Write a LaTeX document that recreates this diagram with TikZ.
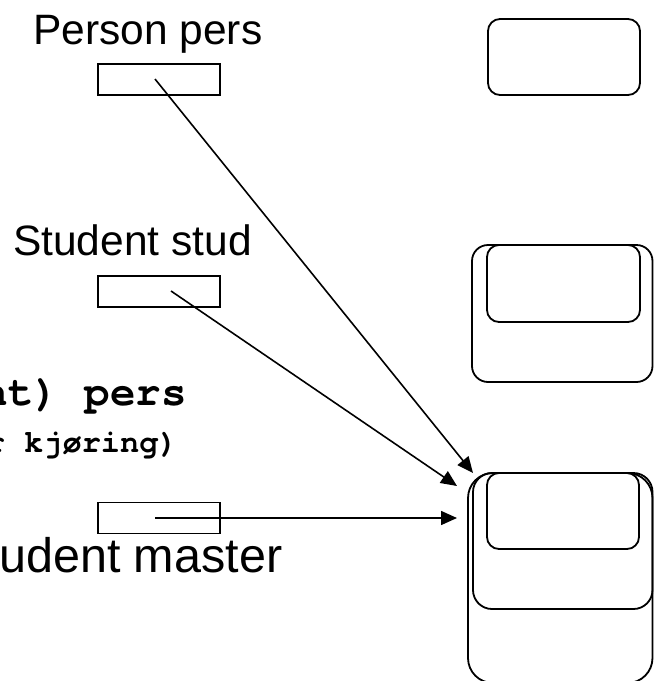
\documentclass[tikz,border=0pt]{standalone}
\usepackage{fontspec}
\setmainfont{Liberation Sans}
\newfontfamily\cursorbold{texgyrecursor-bold.otf}
\usetikzlibrary{arrows.meta}
\tikzset{
  refbox/.style={draw, line width=1.8pt, rectangle, minimum width=122pt, minimum height=31pt, inner sep=0pt},
  objbox/.style={draw, line width=1.8pt},
  ptr/.style={line width=1.6pt, -{Triangle[length=16pt,width=14pt]}},
  sanslabel/.style={inner sep=0pt, anchor=base west, font=\fontsize{42.5}{50}\selectfont},
  codelabel/.style={inner sep=0pt, anchor=base east},
}
\begin{document}
\begin{tikzpicture}[x=1pt,y=-1pt]
\useasboundingbox (0,0) rectangle (654,681);
\clip (0,0) rectangle (654,681);
% texts
\node[sanslabel] (tperson) at (33,44) {Person pers};
\node[sanslabel] (tstud) at (13,255) {Student stud};
\node[sanslabel, font=\fontsize{48.5}{56}\selectfont] (tmaster) at (-1,572) {udent master};
\node[codelabel, font=\cursorbold\fontsize{42.5}{50}\selectfont] (tcast) at (187,405) {nt) pers};
\node[codelabel, font=\cursorbold\fontsize{32}{38}\selectfont] (tnote) at (178,452) {r kjøring)};
% reference variables
\node[refbox] (pers) at (159,79.5) {};
\node[refbox] (stud) at (159,291.5) {};
\node[refbox] (master) at (159,518) {};
% objects
\draw[objbox, rounded corners=12pt] (488,19) rectangle (640,95);
\draw[objbox, rounded corners=16pt] (472,245) rectangle (652.5,382);
\draw[objbox, rounded corners=12pt] (487,245) rectangle (640,322);
\draw[objbox, rounded corners=25pt] (468,473) rectangle (652.5,683);
\draw[objbox, rounded corners=19pt] (473,473) rectangle (652.5,609);
\draw[objbox, rounded corners=12pt] (487,473) rectangle (639,549);
% pointer ends
\coordinate (p1s) at (155,79);
\coordinate (p2s) at (171,291);
\coordinate (p3s) at (155,518);
\coordinate (p1e) at (473,473);
\coordinate (p2e) at (457,486);
\coordinate (p3e) at (457,518);
\draw[ptr] (p1s) -- (p1e);
\draw[ptr] (p2s) -- (p2e);
\draw[ptr] (p3s) -- (p3e);
\end{tikzpicture}
\end{document}
